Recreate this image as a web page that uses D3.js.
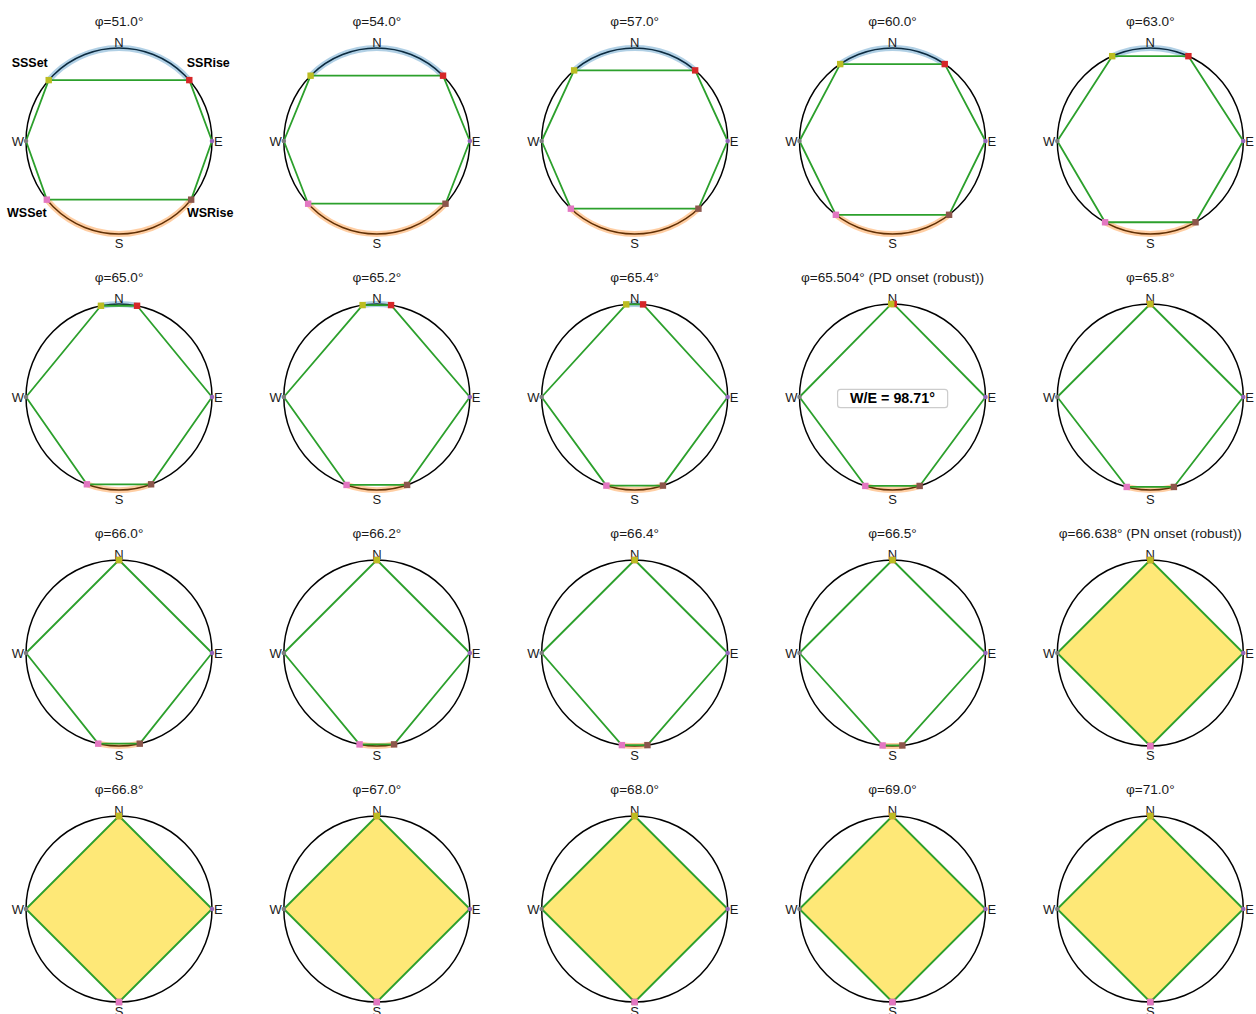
<!DOCTYPE html>
<html>
<head>
<meta charset="utf-8">
<script src="https://cdn.jsdelivr.net/npm/d3@7"></script>
<style>
  html, body { margin: 0; padding: 0; background: #fff; }
  svg { display: block; font-family: "Liberation Sans", Arial, Helvetica, sans-serif; }
</style>
</head>
<body>
<svg id="chart" width="1256" height="1014"></svg>
<script>
// ---------- DATA ----------
const titles = [
  "φ=51.0°", "φ=54.0°", "φ=57.0°", "φ=60.0°", "φ=63.0°",
  "φ=65.0°", "φ=65.2°", "φ=65.4°", "φ=65.504° (PD onset (robust))", "φ=65.8°",
  "φ=66.0°", "φ=66.2°", "φ=66.4°", "φ=66.5°", "φ=66.638° (PN onset (robust))",
  "φ=66.8°", "φ=67.0°", "φ=68.0°", "φ=69.0°", "φ=71.0°"
];
// azimuth (deg from N, clockwise) of summer-solstice sunrise; sunset is mirrored
const ssRiseAz = [
  49.1, 45.4, 40.6, 34.2, 24.2,
  11.2, 8.8, 5.2, 0.8, 0,
  0, 0, 0, 0, 0,
  0, 0, 0, 0, 0
];
// azimuth of winter-solstice sunrise; sunset is mirrored
const wsRiseAz = [
  129.1, 132.4, 136.7, 142.5, 150.9,
  159.8, 161.0, 162.3, 163.0, 165.3,
  167.1, 169.3, 172.1, 173.9, 180,
  180, 180, 180, 180, 180
];
const compassLabels = ["N", "E", "S", "W"];
const pointLabels = ["SSSet", "SSRise", "WSSet", "WSRise"];
const labelPanel = 0;
const annotationPanels = [8];
const annotationTexts = ["W/E = 98.71°"];

// ---------- LAYOUT ----------
const nCols = 5, nRows = 4;
const R = 93;
const colScale = d3.scaleLinear().domain([0, nCols - 1]).range([119, 1150.3]);
const rowScale = d3.scaleLinear().domain([0, nRows - 1]).range([141, 909]);
const azScale = d3.scaleLinear().domain([0, 360]).range([0, 2 * Math.PI]);
const pt = az => d3.pointRadial(azScale(az), R);

const C = {
  circle: "#000", poly: "#2ca02c", fill: "#fee877",
  ssBand: "rgba(31,119,180,0.35)", wsBand: "rgba(255,127,14,0.38)",
  ssSet: "#bcbd22", ssRise: "#d62728", wsSet: "#e377c2", wsRise: "#8c564b",
  W: "#7f7f7f", E: "#9467bd", text: "#1a1a1a"
};

const svg = d3.select("#chart");
svg.append("rect").attr("width", 1256).attr("height", 1014).attr("fill", "#fff");

const panels = svg.selectAll("g.panel")
  .data(titles.map((t, i) => ({ i, title: t, A: ssRiseAz[i], B: wsRiseAz[i] })))
  .join("g")
  .attr("class", "panel")
  .attr("transform", d => `translate(${colScale(d.i % nCols)},${rowScale(Math.floor(d.i / nCols))})`);

panels.each(function (d) {
  const g = d3.select(this);
  const A = d.A, B = d.B;
  const polar = B >= 180;

  // circle
  g.append("circle").attr("r", R).attr("fill", "none")
    .attr("stroke", C.circle).attr("stroke-width", 1.5);

  // polygon: SSRise -> E -> WSRise -> WSSet -> W -> SSSet
  const polyAz = [A, 90, B, 360 - B, 270, 360 - A];
  g.append("path")
    .attr("d", d3.line().curve(d3.curveLinearClosed)(polyAz.map(pt)))
    .attr("fill", polar ? C.fill : "none")
    .attr("stroke", "none");

  // arcs (bands) along the circle
  const toCanvas = az => azScale(az) - Math.PI / 2;
  if (A > 0) {
    const p = d3.path();
    p.arc(0, 0, R, toCanvas(-A), toCanvas(A), false);
    g.append("path").attr("d", p.toString()).attr("fill", "none")
      .attr("stroke", C.ssBand).attr("stroke-width", 6);
  }
  if (B < 180) {
    const p = d3.path();
    p.arc(0, 0, R, toCanvas(B), toCanvas(360 - B), false);
    g.append("path").attr("d", p.toString()).attr("fill", "none")
      .attr("stroke", C.wsBand).attr("stroke-width", 6);
  }

  g.append("path")
    .attr("d", d3.line().curve(d3.curveLinearClosed)(polyAz.map(pt)))
    .attr("fill", "none")
    .attr("stroke", C.poly).attr("stroke-width", 1.8).attr("stroke-linejoin", "round");

  // compass labels
  const lab = g.append("g").attr("fill", C.text).attr("font-size", 13);
  lab.append("text").attr("x", 0).attr("y", -R - 1).attr("text-anchor", "middle").text(compassLabels[0]);
  lab.append("text").attr("x", R + 2).attr("y", 4.7).attr("text-anchor", "start").text(compassLabels[1]);
  lab.append("text").attr("x", 0).attr("y", R + 13.5).attr("text-anchor", "middle").text(compassLabels[2]);
  lab.append("text").attr("x", -R - 2).attr("y", 4.7).attr("text-anchor", "end").text(compassLabels[3]);

  // equinox markers
  [[270, C.W], [90, C.E]].forEach(([az, col]) => {
    const [x, y] = pt(az);
    g.append("circle").attr("cx", x).attr("cy", y).attr("r", 2.3).attr("fill", col);
  });
  // solstice markers
  const s = 6.4;
  [[A, C.ssRise], [360 - A, C.ssSet], [B, C.wsRise], [360 - B, C.wsSet]].forEach(([az, col]) => {
    const [x, y] = pt(az);
    g.append("rect").attr("x", x - s / 2).attr("y", y - s / 2)
      .attr("width", s).attr("height", s).attr("fill", col);
  });

  // title
  g.append("text").attr("x", 0).attr("y", -115.3).attr("text-anchor", "middle")
    .attr("font-size", 13.6).attr("fill", C.text).text(d.title);

  // point labels on first panel
  if (d.i === labelPanel) {
    const defs = [[360 - A, -19, -13.3], [A, 19, -13.3], [360 - B, -20, 17.6], [B, 19, 17.6]];
    defs.forEach(([az, dx, dy], k) => {
      const [x, y] = pt(az);
      g.append("text").attr("x", x + dx).attr("y", y + dy).attr("text-anchor", "middle")
        .attr("font-size", 12.5).attr("font-weight", "bold").attr("fill", "#000")
        .text(pointLabels[k]);
    });
  }

  // annotation box
  const ai = annotationPanels.indexOf(d.i);
  if (ai >= 0) {
    const t = g.append("text").attr("x", 0).attr("y", 6.3).attr("text-anchor", "middle")
      .attr("font-size", 14.3).attr("font-weight", "bold").attr("fill", "#000")
      .text(annotationTexts[ai]);
    const bb = t.node().getBBox();
    g.insert("rect", () => t.node())
      .attr("x", bb.x - 12.5).attr("y", -7.7).attr("width", bb.width + 25).attr("height", 18.4)
      .attr("rx", 3).attr("fill", "rgba(255,255,255,0.9)")
      .attr("stroke", "#cccccc").attr("stroke-width", 1.2);
  }
});
</script>
</body>
</html>
